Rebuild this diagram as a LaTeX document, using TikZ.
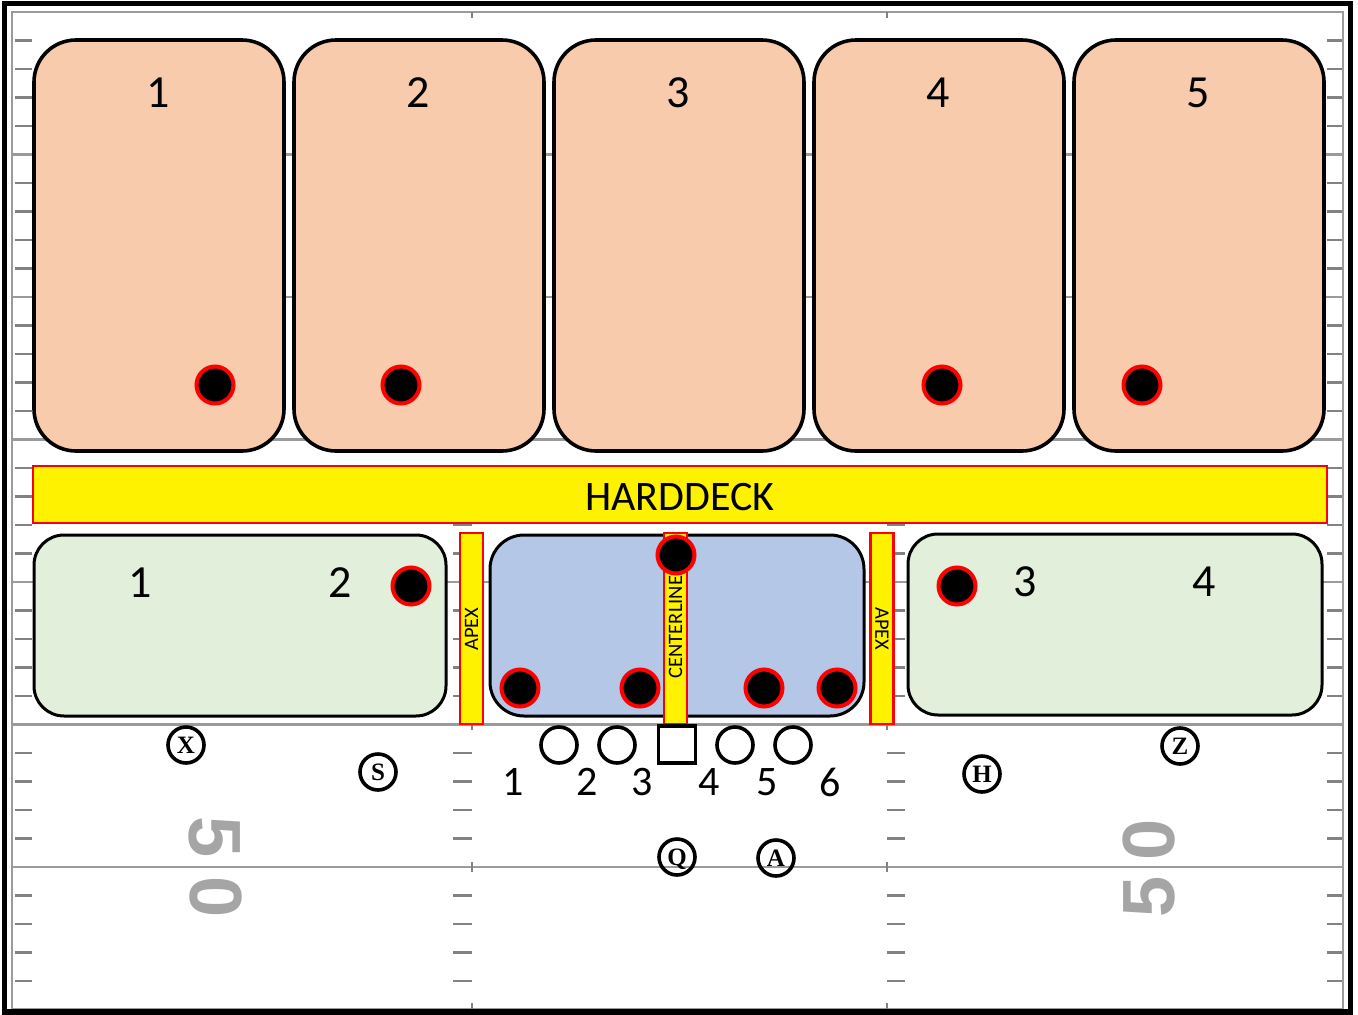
\documentclass[tikz,border=0pt]{standalone}
\usepackage{fontspec}
\setmainfont{Carlito}
\newfontfamily\playerfont{Liberation Serif}
\newfontfamily\yardfont{Liberation Sans}
\definecolor{peach}{RGB}{248,203,173}
\definecolor{paleGreen}{RGB}{226,239,218}
\definecolor{paleBlue}{RGB}{180,199,231}
\definecolor{lineGray}{RGB}{155,155,155}
\definecolor{hashGray}{RGB}{130,130,130}
\definecolor{yardGray}{RGB}{165,165,165}
\begin{document}
\begin{tikzpicture}[x=1pt,y=-1pt,
  every node/.style={inner sep=0pt, outer sep=0pt},
  yardline/.style={draw=lineGray, line width=2.2pt},
  hashmark/.style={draw=hashGray, line width=2.6pt},
  deepzone/.style={draw=black, line width=3.6pt, fill=peach, rounded corners=42pt,
    minimum width=250pt, minimum height=411pt},
  underzone/.style={draw=black, line width=3pt, fill=paleGreen, rounded corners=30pt,
    minimum height=181pt},
  boxzone/.style={draw=black, line width=3pt, fill=paleBlue, rounded corners=34pt,
    minimum height=181pt},
  markbar/.style={draw=red, line width=2.4pt, fill=yellow},
  vbar/.style={markbar, minimum width=23pt, minimum height=191pt},
  zonenum/.style={font=\fontsize{46}{46}\selectfont},
  gapnum/.style={font=\fontsize{42}{42}\selectfont},
  defender/.style={circle, fill=black, draw=red, line width=4pt, minimum size=37pt},
  lineman/.style={circle, draw=black, line width=3.6pt, minimum size=36pt},
  center/.style={rectangle, draw=black, line width=3.8pt, minimum size=37pt},
  skill/.style={circle, draw=black, line width=3.6pt, minimum size=36pt,
    text height=16.5pt, text depth=0pt,
    font=\playerfont\bfseries\fontsize{25}{25}\selectfont},
  yardnum/.style={text=yardGray, font=\yardfont\bfseries\fontsize{74}{74}\selectfont}
]
\useasboundingbox (0,0) rectangle (1358,1015);

% ---- field ----
\draw[draw=lineGray, line width=2.2pt] (12,12) rectangle (1343,1009);
\foreach \k in {1,...,6} {
  \draw[yardline] (12,{12+142.5*\k}) -- (1343,{12+142.5*\k});
}
\foreach \k in {0,...,6} {
  \foreach \j in {1,...,4} {
    \pgfmathsetmacro\yy{12+142.5*\k+28.5*\j}
    \draw[hashmark] (15,\yy) -- (32,\yy);
    \draw[hashmark] (1327,\yy) -- (1342,\yy);
    \draw[hashmark] (453,\yy) -- (472,\yy);
    \draw[hashmark] (887,\yy) -- (905,\yy);
  }
}
\foreach \k in {1,...,6} {
  \draw[hashmark, line width=2.2pt] (472,{7+142.5*\k}) -- (472,{17+142.5*\k});
  \draw[hashmark, line width=2.2pt] (887,{7+142.5*\k}) -- (887,{17+142.5*\k});
}
\draw[hashmark, line width=2.2pt] (472,12) -- (472,18) (887,12) -- (887,18);
\draw[hashmark, line width=2.2pt] (472,1003) -- (472,1009) (887,1003) -- (887,1009);

% yard numbers
\node[yardnum, rotate=-90] (fiftyL5) at (215,837) {5};
\node[yardnum, rotate=-90] (fiftyL0) at (216,897) {0};
\node[yardnum, rotate=90] (fiftyR0) at (1149,839.5) {0};
\node[yardnum, rotate=90] (fiftyR5) at (1149,897) {5};

% outer frame
\draw[black, line width=5.5pt] (4.5,3.5) rectangle (1350.5,1012);

% ---- deep zones ----
\foreach \i in {1,...,5} {
  \node[deepzone] (deep\i) at ({159+260*(\i-1)},245.5) {};
  \node[zonenum] (deepnum\i) at ({158.5+260*(\i-1)},92.5) {\i};
}
\node[defender] (dd1) at (215,385) {};
\node[defender] (dd2) at (401,385) {};
\node[defender] (dd4) at (942,385) {};
\node[defender] (dd5) at (1142,385) {};

% ---- harddeck ----
\node[markbar, minimum width=1294pt, minimum height=57pt] (harddeck) at (680,494.5) {};
\node[font=\fontsize{42}{42}\selectfont] (harddecktxt) at (680,497) {HARDDECK};

% ---- underneath zones ----
\node[underzone, minimum width=412pt] (underL) at (240,625.5) {};
\node[underzone, minimum width=414pt] (underR) at (1115,624.5) {};
\node[boxzone, minimum width=374pt] (box) at (677,625.5) {};

\node[zonenum] (u1) at (140,583) {1};
\node[zonenum] (u2) at (340,583) {2};
\node[zonenum] (u3) at (1025,582) {3};
\node[zonenum] (u4) at (1204,582) {4};

\node[vbar] (apexL) at (471.5,628.5) {};
\node[vbar] (centerline) at (675.5,628.5) {};
\node[vbar] (apexR) at (882,628.5) {};
\node[rotate=90, font=\fontsize{20.5}{20.5}\selectfont] (apexLtxt) at (471.5,629) {APEX};
\node[rotate=-90, font=\fontsize{20.5}{20.5}\selectfont] (apexRtxt) at (882,629) {APEX};
\node[rotate=90, font=\fontsize{20.5}{20.5}\selectfont] (centertxt) at (675.5,627) {CENTERLINE};

\node[defender] (du2) at (411,586) {};
\node[defender] (du3) at (957,586) {};
\node[defender] (dmid) at (676,555) {};
\node[defender] (db1) at (520,688) {};
\node[defender] (db2) at (640,688) {};
\node[defender] (db3) at (764,688) {};
\node[defender] (db4) at (837,688) {};

% ---- offense ----
\node[lineman] (lt) at (559,745) {};
\node[lineman] (lg) at (617,745) {};
\node[center] (c) at (677,744.5) {};
\node[lineman] (rg) at (735,745) {};
\node[lineman] (rt) at (793,745) {};

\node[gapnum] (g1) at (513,782) {1};
\node[gapnum] (g2) at (587,782) {2};
\node[gapnum] (g3) at (642,782) {3};
\node[gapnum] (g4) at (709,782) {4};
\node[gapnum] (g5) at (767,782) {5};
\node[gapnum] (g6) at (830,782) {6};

\node[skill] (X) at (186,745) {X};
\node[skill] (S) at (378,772) {S};
\node[skill] (Q) at (677,857) {Q};
\node[skill] (A) at (776,858) {A};
\node[skill] (H) at (982,774) {H};
\node[skill] (Z) at (1180,746) {Z};
\end{tikzpicture}
\end{document}
